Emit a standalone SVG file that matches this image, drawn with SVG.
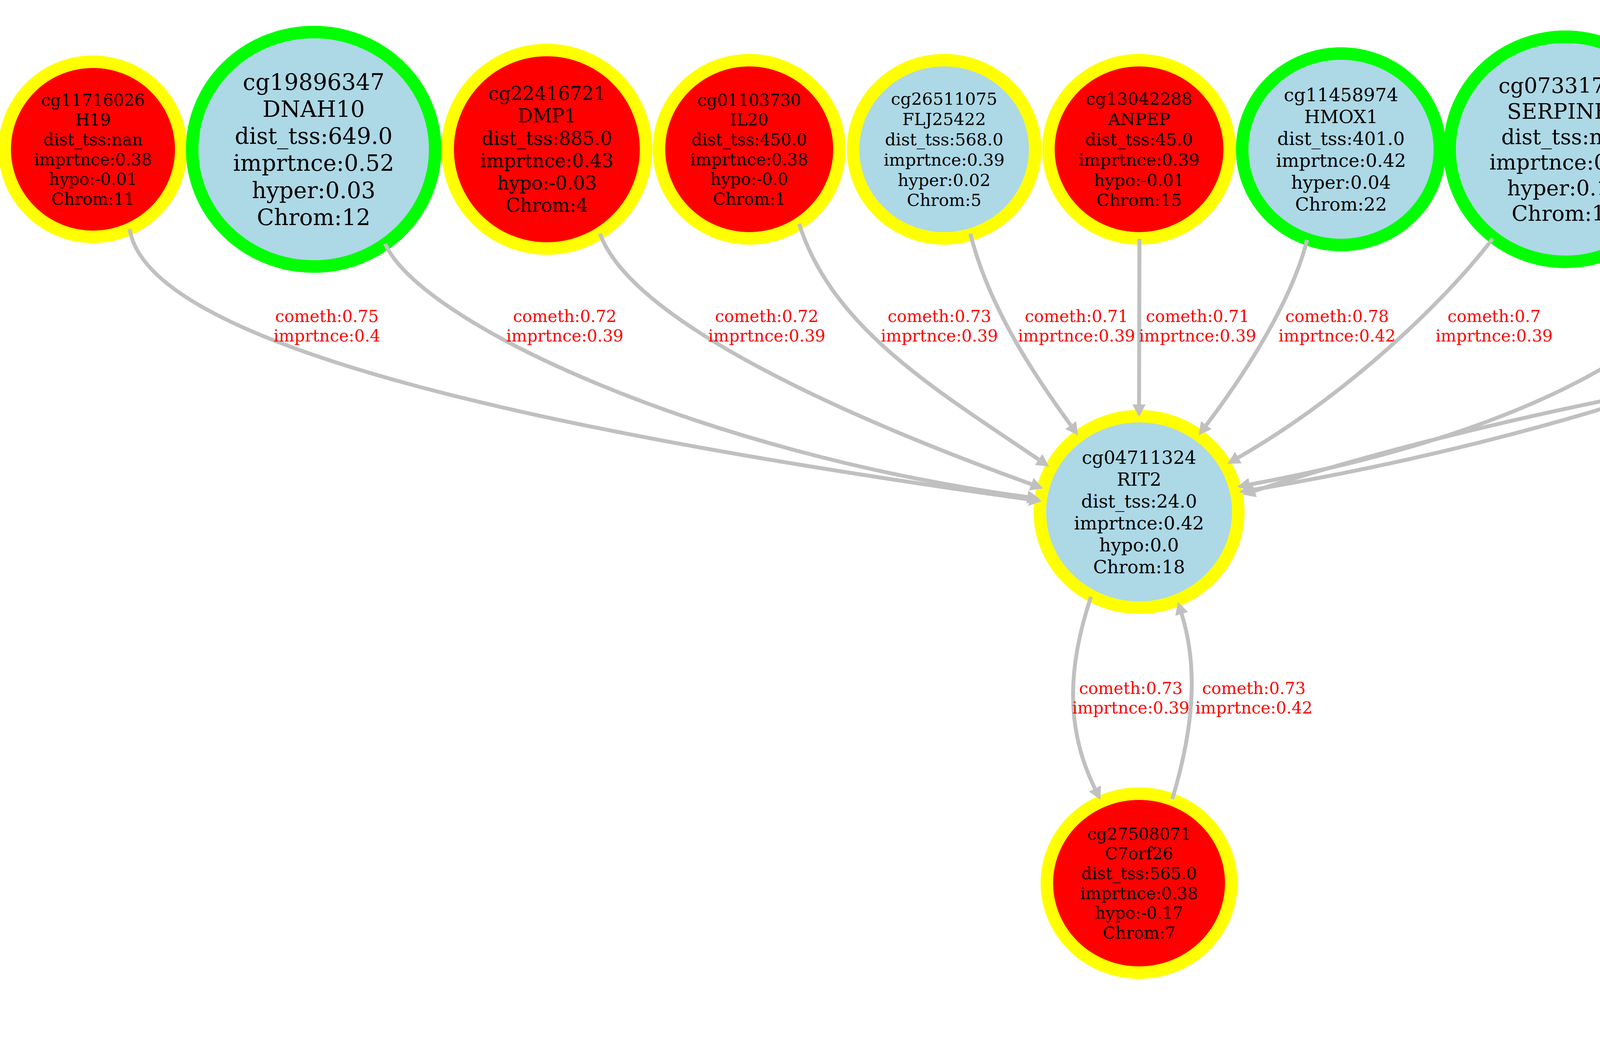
<svg xmlns="http://www.w3.org/2000/svg" width="7839" height="2664" viewBox="0 0 7839 2664">
<style>
.nd ellipse{stroke-width:32}
.r ellipse{fill:#ff0000}
.b ellipse{fill:#add8e6}
.y ellipse{stroke:#ffff00}
.g ellipse{stroke:#00ff00}
.nd text{font-family:"DejaVu Serif","Liberation Serif",serif;fill:#000;text-anchor:middle}
.e path{fill:none;stroke:#c0c0c0}
.thin path{stroke-width:10;marker-end:url(#ah)}
.e text{font-family:"DejaVu Serif","Liberation Serif",serif;font-size:42px;fill:#ff0000;text-anchor:middle}
</style>
<defs>
<marker id="ah" markerUnits="userSpaceOnUse" viewBox="-2 -20 40 40" refX="0" refY="0" markerWidth="40" markerHeight="40" orient="auto" overflow="visible"><path d="M0,-17 L32,0 L0,17 z" fill="#c0c0c0"/></marker>
<marker id="ahT" markerUnits="userSpaceOnUse" viewBox="-2 -40 44 80" refX="0" refY="0" markerWidth="44" markerHeight="80" orient="auto" overflow="visible"><path d="M0,-37 L38,0 L0,37 z" fill="#c0c0c0"/></marker>
</defs>
<rect width="7839" height="2664" fill="#ffffff"/>
<g id="nodes">
<g id="cg11716026" class="nd r y" transform="translate(238,382)"><ellipse rx="226" ry="224"/><text font-size="42.2"><tspan x="0" dy="-2.64em">cg11716026</tspan><tspan x="0" dy="1.2em">H19</tspan><tspan x="0" dy="1.2em">dist_tss:nan</tspan><tspan x="0" dy="1.2em">imprtnce:0.38</tspan><tspan x="0" dy="1.2em">hypo:-0.01</tspan><tspan x="0" dy="1.2em">Chrom:11</tspan></text></g>
<g id="cg19896347" class="nd b g" transform="translate(803,382)"><ellipse rx="311" ry="300"/><text font-size="57.7"><tspan x="0" dy="-2.64em">cg19896347</tspan><tspan x="0" dy="1.2em">DNAH10</tspan><tspan x="0" dy="1.2em">dist_tss:649.0</tspan><tspan x="0" dy="1.2em">imprtnce:0.52</tspan><tspan x="0" dy="1.2em">hyper:0.03</tspan><tspan x="0" dy="1.2em">Chrom:12</tspan></text></g>
<g id="cg22416721" class="nd r y" transform="translate(1400,382)"><ellipse rx="254" ry="254"/><text font-size="47.7"><tspan x="0" dy="-2.64em">cg22416721</tspan><tspan x="0" dy="1.2em">DMP1</tspan><tspan x="0" dy="1.2em">dist_tss:885.0</tspan><tspan x="0" dy="1.2em">imprtnce:0.43</tspan><tspan x="0" dy="1.2em">hypo:-0.03</tspan><tspan x="0" dy="1.2em">Chrom:4</tspan></text></g>
<g id="cg01103730" class="nd r y" transform="translate(1918,382)"><ellipse rx="231" ry="228"/><text font-size="42.2"><tspan x="0" dy="-2.64em">cg01103730</tspan><tspan x="0" dy="1.2em">IL20</tspan><tspan x="0" dy="1.2em">dist_tss:450.0</tspan><tspan x="0" dy="1.2em">imprtnce:0.38</tspan><tspan x="0" dy="1.2em">hypo:-0.0</tspan><tspan x="0" dy="1.2em">Chrom:1</tspan></text></g>
<g id="cg26511075" class="nd b y" transform="translate(2417,382)"><ellipse rx="233" ry="228"/><text font-size="43.3"><tspan x="0" dy="-2.64em">cg26511075</tspan><tspan x="0" dy="1.2em">FLJ25422</tspan><tspan x="0" dy="1.2em">dist_tss:568.0</tspan><tspan x="0" dy="1.2em">imprtnce:0.39</tspan><tspan x="0" dy="1.2em">hyper:0.02</tspan><tspan x="0" dy="1.2em">Chrom:5</tspan></text></g>
<g id="cg13042288" class="nd r y" transform="translate(2916,382)"><ellipse rx="232" ry="228"/><text font-size="43.3"><tspan x="0" dy="-2.64em">cg13042288</tspan><tspan x="0" dy="1.2em">ANPEP</tspan><tspan x="0" dy="1.2em">dist_tss:45.0</tspan><tspan x="0" dy="1.2em">imprtnce:0.39</tspan><tspan x="0" dy="1.2em">hypo:-0.01</tspan><tspan x="0" dy="1.2em">Chrom:15</tspan></text></g>
<g id="cg11458974" class="nd b g" transform="translate(3433,382)"><ellipse rx="253" ry="245"/><text font-size="46.6"><tspan x="0" dy="-2.64em">cg11458974</tspan><tspan x="0" dy="1.2em">HMOX1</tspan><tspan x="0" dy="1.2em">dist_tss:401.0</tspan><tspan x="0" dy="1.2em">imprtnce:0.42</tspan><tspan x="0" dy="1.2em">hyper:0.04</tspan><tspan x="0" dy="1.2em">Chrom:22</tspan></text></g>
<g id="cg07331725" class="nd b g" transform="translate(4007,382)"><ellipse rx="296" ry="288"/><text font-size="54.4"><tspan x="0" dy="-2.64em">cg07331725</tspan><tspan x="0" dy="1.2em">SERPINB5</tspan><tspan x="0" dy="1.2em">dist_tss:nan</tspan><tspan x="0" dy="1.2em">imprtnce:0.49</tspan><tspan x="0" dy="1.2em">hyper:0.15</tspan><tspan x="0" dy="1.2em">Chrom:18</tspan></text></g>
<g id="cg17185639" class="nd b y" transform="translate(4565,382)"><ellipse rx="234" ry="232"/><text font-size="44.4"><tspan x="0" dy="-2.64em">cg17185639</tspan><tspan x="0" dy="1.2em">ITGB3</tspan><tspan x="0" dy="1.2em">dist_tss:346.0</tspan><tspan x="0" dy="1.2em">imprtnce:0.4</tspan><tspan x="0" dy="1.2em">hyper:0.06</tspan><tspan x="0" dy="1.2em">Chrom:17</tspan></text></g>
<g id="cg19250907" class="nd b g" transform="translate(5115,382)"><ellipse rx="282" ry="275"/><text font-size="52.2"><tspan x="0" dy="-2.64em">cg19250907</tspan><tspan x="0" dy="1.2em">CPA6</tspan><tspan x="0" dy="1.2em">dist_tss:748.0</tspan><tspan x="0" dy="1.2em">imprtnce:0.47</tspan><tspan x="0" dy="1.2em">hyper:0.04</tspan><tspan x="0" dy="1.2em">Chrom:8</tspan></text></g>
<g id="cg09837169" class="nd b y" transform="translate(5840,382)"><ellipse rx="208" ry="204"/><text font-size="37.7"><tspan x="0" dy="-2.64em">cg09837169</tspan><tspan x="0" dy="1.2em">TIAM2</tspan><tspan x="0" dy="1.2em">dist_tss:683.0</tspan><tspan x="0" dy="1.2em">imprtnce:0.34</tspan><tspan x="0" dy="1.2em">hyper:0.03</tspan><tspan x="0" dy="1.2em">Chrom:6</tspan></text></g>
<g id="cg23773532" class="nd b y" transform="translate(6779,382)"><ellipse rx="249" ry="242"/><text font-size="45.5"><tspan x="0" dy="-2.64em">cg23773532</tspan><tspan x="0" dy="1.2em">GPRC5D</tspan><tspan x="0" dy="1.2em">dist_tss:102.0</tspan><tspan x="0" dy="1.2em">imprtnce:0.41</tspan><tspan x="0" dy="1.2em">hyper:0.04</tspan><tspan x="0" dy="1.2em">Chrom:12</tspan></text></g>
<g id="cg00396894" class="nd b g" transform="translate(7440,382)"><ellipse rx="379" ry="377"/><text font-size="72.2"><tspan x="0" dy="-2.64em">cg00396894</tspan><tspan x="0" dy="1.2em">MGC44505</tspan><tspan x="0" dy="1.2em">dist_tss:142.0</tspan><tspan x="0" dy="1.2em">imprtnce:0.65</tspan><tspan x="0" dy="1.2em">hyper:0.14</tspan><tspan x="0" dy="1.2em">Chrom:2</tspan></text></g>
<g id="cg04711324" class="nd b y" transform="translate(2916,1310)"><ellipse rx="254" ry="245"/><text font-size="46.6"><tspan x="0" dy="-2.64em">cg04711324</tspan><tspan x="0" dy="1.2em">RIT2</tspan><tspan x="0" dy="1.2em">dist_tss:24.0</tspan><tspan x="0" dy="1.2em">imprtnce:0.42</tspan><tspan x="0" dy="1.2em">hypo:0.0</tspan><tspan x="0" dy="1.2em">Chrom:18</tspan></text></g>
<g id="cg27508071" class="nd r y" transform="translate(2916,2260)"><ellipse rx="236" ry="229"/><text font-size="42.2"><tspan x="0" dy="-2.64em">cg27508071</tspan><tspan x="0" dy="1.2em">C7orf26</tspan><tspan x="0" dy="1.2em">dist_tss:565.0</tspan><tspan x="0" dy="1.2em">imprtnce:0.38</tspan><tspan x="0" dy="1.2em">hypo:-0.17</tspan><tspan x="0" dy="1.2em">Chrom:7</tspan></text></g>
<g id="cg06500476" class="nd r g" transform="translate(5192,1310)"><ellipse rx="405" ry="403"/><text font-size="77.7"><tspan x="0" dy="-2.64em">cg06500476</tspan><tspan x="0" dy="1.2em">FLJ11017</tspan><tspan x="0" dy="1.2em">dist_tss:901.0</tspan><tspan x="0" dy="1.2em">imprtnce:0.7</tspan><tspan x="0" dy="1.2em">hypo:-0.1</tspan><tspan x="0" dy="1.2em">Chrom:4</tspan></text></g>
<g id="cg17238009" class="nd b g" transform="translate(6004,1310)"><ellipse rx="376" ry="373"/><text font-size="71"><tspan x="0" dy="-2.64em">cg17238009</tspan><tspan x="0" dy="1.2em">C10orf11</tspan><tspan x="0" dy="1.2em">dist_tss:63.0</tspan><tspan x="0" dy="1.2em">imprtnce:0.64</tspan><tspan x="0" dy="1.2em">hyper:0.03</tspan><tspan x="0" dy="1.2em">Chrom:10</tspan></text></g>
<g id="cg26845278" class="nd r g" transform="translate(6816,1310)"><ellipse rx="402" ry="393"/><text font-size="75.5"><tspan x="0" dy="-2.64em">cg26845278</tspan><tspan x="0" dy="1.2em">SPATA21</tspan><tspan x="0" dy="1.2em">dist_tss:248.0</tspan><tspan x="0" dy="1.2em">imprtnce:0.68</tspan><tspan x="0" dy="1.2em">hypo:-0.04</tspan><tspan x="0" dy="1.2em">Chrom:1</tspan></text></g>
<g id="cg06501084" class="nd r g" transform="translate(5192,2260)"><ellipse rx="410" ry="398"/><text font-size="76.6"><tspan x="0" dy="-2.64em">cg06501084</tspan><tspan x="0" dy="1.2em">KCNH5</tspan><tspan x="0" dy="1.2em">dist_tss:389.0</tspan><tspan x="0" dy="1.2em">imprtnce:0.69</tspan><tspan x="0" dy="1.2em">hypo:-0.15</tspan><tspan x="0" dy="1.2em">Chrom:14</tspan></text></g>
</g>
<g id="connectors">
<g class="e thin"><path d="M332,586 C380,900 1500,1120 2635,1278"/><text x="837" y="824">cometh:0.75<tspan x="837" dy="1.2em">imprtnce:0.4</tspan></text></g>
<g class="e thin"><path d="M986,624 C1080,830 1800,1160 2630,1272"/><text x="1446" y="824">cometh:0.72<tspan x="1446" dy="1.2em">imprtnce:0.39</tspan></text></g>
<g class="e thin"><path d="M1536,598 C1620,830 2200,1080 2640,1239"/><text x="1963" y="824">cometh:0.72<tspan x="1963" dy="1.2em">imprtnce:0.39</tspan></text></g>
<g class="e thin"><path d="M2046,573 C2130,840 2400,1000 2659,1176"/><text x="2405" y="824">cometh:0.73<tspan x="2405" dy="1.2em">imprtnce:0.39</tspan></text></g>
<g class="e thin"><path d="M2484,598 C2530,780 2640,950 2741,1088"/><text x="2756" y="824">cometh:0.71<tspan x="2756" dy="1.2em">imprtnce:0.39</tspan></text></g>
<g class="e thin"><path d="M2917,611 L2916,1035"/><text x="3066" y="824">cometh:0.71<tspan x="3066" dy="1.2em">imprtnce:0.39</tspan></text></g>
<g class="e thin"><path d="M3346,614 C3310,760 3200,940 3088,1088"/><text x="3423" y="824">cometh:0.78<tspan x="3423" dy="1.2em">imprtnce:0.42</tspan></text></g>
<g class="e thin"><path d="M3821,611 C3700,770 3450,1010 3170,1171"/><text x="3825" y="824">cometh:0.7<tspan x="3825" dy="1.2em">imprtnce:0.39</tspan></text></g>
<g class="e thin"><path d="M4459,589 C4330,880 3900,1110 3199,1240"/><text x="4435" y="824">cometh:0.71<tspan x="4435" dy="1.2em">imprtnce:0.43</tspan></text></g>
<g class="e thin"><path d="M4949,611 C4820,850 4000,1120 3204,1254"/><text x="4940" y="824">cometh:0.71<tspan x="4940" dy="1.2em">imprtnce:0.38</tspan></text></g>
<g class="e thin"><path d="M5698,530 C5640,590 5470,710 5393,763 C5360,775 5340,780 5320,790 C5250,830 5170,900 4949,901 C4700,905 3878,1041 3212,1256"/><text x="5485" y="824">cometh:0.81<tspan x="5485" dy="1.2em">imprtnce:0.39</tspan></text></g>
<g class="e"><path d="M5754,565 C5715,700 5655,800 5645,885 L5532,995" stroke-width="24" marker-end="url(#ahT)"/><text x="5820" y="824">cometh:0.83<tspan x="5820" dy="1.2em">imprtnce:0.75</tspan></text></g>
<g class="e"><path d="M5920,570 C5960,700 5995,800 6000,897" stroke-width="16" marker-end="url(#ahT)"/><text x="6144" y="824">cometh:0.72<tspan x="6144" dy="1.2em">imprtnce:0.65</tspan></text></g>
<g class="e"><path d="M6000,511 C6200,700 6420,860 6505,994" stroke-width="21" marker-end="url(#ahT)"/><text x="6552" y="824">cometh:0.71<tspan x="6552" dy="1.2em">imprtnce:0.73</tspan></text></g>
<g class="e"><path d="M6790,623 L6803,872" stroke-width="18" marker-end="url(#ahT)"/><text x="6951" y="824">cometh:0.79<tspan x="6951" dy="1.2em">imprtnce:0.68</tspan></text></g>
<g class="e"><path d="M7230,697 L7069,945" stroke-width="16" marker-end="url(#ahT)"/><text x="7323" y="824">cometh:0.72<tspan x="7323" dy="1.2em">imprtnce:0.65</tspan></text></g>
<g class="e thin"><path d="M2793,1527 C2735,1700 2725,1860 2803,2018"/><text x="2895" y="1776">cometh:0.73<tspan x="2895" dy="1.2em">imprtnce:0.39</tspan></text></g>
<g class="e thin"><path d="M3001,2045 C3060,1850 3065,1700 3025,1571"/><text x="3210" y="1776">cometh:0.73<tspan x="3210" dy="1.2em">imprtnce:0.42</tspan></text></g>
<g class="e"><path d="M5029,1680 C5012,1740 5012,1800 5028,1849" stroke-width="17" marker-end="url(#ahT)"/><text x="5178" y="1777">cometh:0.75<tspan x="5178" dy="1.2em">imprtnce:0.66</tspan></text></g>
<g class="e"><path d="M5324,1882 C5340,1830 5338,1780 5331,1732" stroke-width="18" marker-end="url(#ahT)"/><text x="5487" y="1777">cometh:0.75<tspan x="5487" dy="1.2em">imprtnce:0.68</tspan></text></g>
</g>
</svg>
